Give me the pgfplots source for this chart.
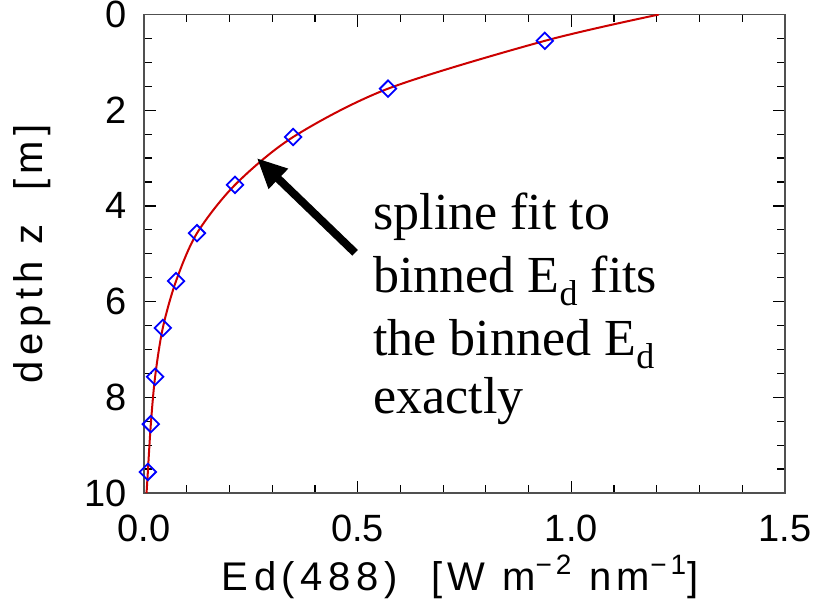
\documentclass[border=0pt]{standalone}
\usepackage{fontspec}
\setmainfont{Liberation Sans}
\newfontfamily\timesf{Liberation Serif}
\newfontfamily\idl[LetterSpace=14]{Liberation Sans}
\usepackage{pgfplots}
\pgfplotsset{compat=1.18}
\usetikzlibrary{arrows.meta}
\definecolor{fitred}{RGB}{204,0,0}
\definecolor{axgray}{RGB}{80,80,80}
\newcommand{\sub}[1]{\raisebox{-6.5pt}{\fontsize{18}{20}\selectfont #1}}
\begin{document}
\begin{tikzpicture}
\useasboundingbox (-72pt,-54pt) rectangle (337pt,246.5pt);
\begin{axis}[
  at={(0,0)}, anchor=south west,
  scale only axis,
  width=320.5pt, height=239.25pt,
  xmin=0, xmax=1.5, ymin=0, ymax=10,
  y dir=reverse,
  xtick={0,0.5,1.0,1.5},
  ytick={0,2,4,6,8,10},
  minor x tick num=4,
  minor y tick num=3,
  tick align=inside,
  xtick pos=both, ytick pos=both,
  xticklabel pos=lower, yticklabel pos=left,
  major tick length=6pt,
  minor tick length=3.8pt,
  axis line style={axgray, line width=0.7pt},
  every tick/.style={black, line width=0.6pt},
  /pgf/number format/assume math mode=true,
  xticklabel={\pgfmathprintnumber[fixed,fixed zerofill,precision=1]{\tick}},
  ticklabel style={font=\fontsize{19}{22}\selectfont},
  xticklabel style={anchor=north, inner sep=0pt, yshift=-11pt},
  yticklabel style={anchor=east, inner sep=0pt, xshift=-8.5pt},
  xlabel={\idl Ed(488)\ \ [W m\textsuperscript{−2} nm\textsuperscript{−1}]},
  ylabel={\idl depth z\ \ [m]},
  label style={font=\fontsize{20}{23}\selectfont},
  xlabel style={at={(axis description cs:0.493,-0.2027)}, anchor=base},
  ylabel style={at={(axis description cs:-0.159,0.5)}, anchor=base},
  clip=true,
]
\addplot[fitred, line width=1pt, smooth, tension=0.5] coordinates {
  (1.205,0) (0.938,0.55) (0.571,1.55) (0.349,2.56) (0.213,3.56)
  (0.124,4.57) (0.075,5.57) (0.044,6.55) (0.026,7.57) (0.016,8.56)
  (0.009,9.56) (0.006,10.0)
};
\addplot[only marks, mark=square, mark size=2.9pt,
  mark options={rotate=45, blue, line width=0.9pt}] coordinates {
  (0.938,0.55) (0.571,1.55) (0.349,2.56) (0.213,3.56)
  (0.124,4.57) (0.075,5.57) (0.044,6.55) (0.026,7.57) (0.016,8.56)
  (0.009,9.56)
};
\draw[line width=4pt, -{Triangle[length=15pt,width=13pt]}]
  (axis cs:0.494,4.98) -- (axis cs:0.264,3.0);
\begin{scope}[every node/.style={anchor=base west, inner sep=0pt, font=\fontsize{26}{30}\selectfont\timesf}]
\node at (axis cs:0.536,4.50) {spline fit to};
\node at (axis cs:0.536,5.80) {binned E\sub{d} fits};
\node at (axis cs:0.536,7.12) {the binned E\sub{d}};
\node at (axis cs:0.536,8.33) {exactly};
\end{scope}
\end{axis}
\end{tikzpicture}
\end{document}
